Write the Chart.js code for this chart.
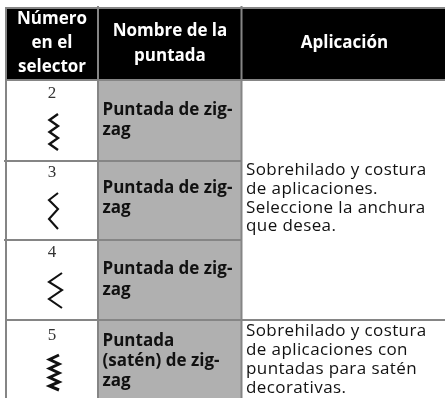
<!DOCTYPE html>
<html>
<head>
<meta charset="utf-8">
<script src="https://cdn.jsdelivr.net/npm/chart.js@4/dist/chart.umd.min.js"></script>
<style>
  html, body { margin: 0; padding: 0; background: #fff; }
  #wrap { width: 445px; height: 398px; }
</style>
</head>
<body>
<div id="wrap"><canvas id="tabla" width="445" height="398"></canvas></div>
<script>
// table text
const headers = [["Número", "en el", "selector"], ["Nombre de la", "puntada"], ["Aplicación"]];
const selectorNumbers = ["2", "3", "4", "5"];
const stitchNames = [
  ["Puntada de zig-", "zag"],
  ["Puntada de zig-", "zag"],
  ["Puntada de zig-", "zag"],
  ["Puntada", "(satén) de zig-", "zag"]
];
const applications = [
  ["Sobrehilado y costura", "de aplicaciones.", "Seleccione la anchura", "que desea."],
  ["Sobrehilado y costura", "de aplicaciones con", "puntadas para satén", "decorativas."]
];

// grid
const columnEdges = [6, 98, 241.5, 445];
const rowEdges = [8, 80, 161, 240, 320, 398];

// stitch glyphs
const stitch2 = [{x:58,y:114},{x:49.5,y:120},{x:58,y:126},{x:49.5,y:132},{x:58,y:138},{x:49.5,y:144},{x:58,y:150}];
const stitch3 = [{x:58,y:193},{x:49,y:200},{x:58,y:209},{x:49,y:219},{x:58,y:229}];
const stitch4 = [{x:62,y:273},{x:49,y:282},{x:62,y:290},{x:49,y:299},{x:62,y:308}];
const stitch5 = [{x:59,y:355},{x:49.5,y:359.5},{x:59,y:364},{x:49.5,y:368.5},{x:59,y:373},{x:49.5,y:377.5},{x:59,y:382},{x:49.5,y:386},{x:59,y:390}];

const GRID = "#858585", CELL = "#b0b0b0", INK = "#111";

function rect(x0, x1, top, bottom, color) {
  return {
    type: "line",
    data: [{x: x0, y: top}, {x: x1, y: top}],
    borderWidth: 0, pointRadius: 0,
    backgroundColor: color,
    fill: {value: bottom}, order: 3
  };
}
function rule(a, b, width) {
  return {
    type: "line", data: [a, b],
    borderColor: GRID, borderWidth: width || 2,
    pointRadius: 0, fill: false, order: 2
  };
}
function stitch(points, width) {
  return {
    type: "line", data: points,
    borderColor: INK, borderWidth: width,
    pointRadius: 0, fill: false, tension: 0, order: 1
  };
}

const datasets = [
  rect(columnEdges[0], columnEdges[3], rowEdges[0], rowEdges[1], "#000"),
  rect(columnEdges[1], columnEdges[2], rowEdges[1], rowEdges[5], CELL),
  // horizontal rules; the two inner ones stick out on the left
  rule({x: 6, y: rowEdges[0]}, {x: 445, y: rowEdges[0]}),
  rule({x: 6, y: rowEdges[1]}, {x: 445, y: rowEdges[1]}),
  rule({x: 4, y: rowEdges[2]}, {x: 241, y: rowEdges[2]}),
  rule({x: 4, y: rowEdges[3]}, {x: 241, y: rowEdges[3]}),
  rule({x: 6, y: rowEdges[4]}, {x: 445, y: rowEdges[4]}),
  rule({x: columnEdges[0], y: 7}, {x: columnEdges[0], y: 398}),
  rule({x: columnEdges[1], y: 6}, {x: columnEdges[1], y: 398}),
  rule({x: columnEdges[2], y: 6}, {x: columnEdges[2], y: 398}),
  stitch(stitch2, 2.4), stitch(stitch3, 2.1), stitch(stitch4, 2.1), stitch(stitch5, 3)
];

// text goes through the scales as well
const textPlugin = {
  id: "tableText",
  afterDatasetsDraw(chart) {
    const c = chart.ctx, xs = chart.scales.x, ys = chart.scales.y;
    const put = (lines, x, baselines, font, color, align, spacing) => {
      c.font = font; c.fillStyle = color; c.textAlign = align; c.textBaseline = "alphabetic";
      c.letterSpacing = spacing || "0px";
      lines.forEach((t, i) => c.fillText(t, xs.getPixelForValue(x), ys.getPixelForValue(baselines[i])));
    };
    const head = "bold 17px 'Open Sans'", bold = "bold 17px 'Open Sans'", body = "17px 'Open Sans'";
    c.save();
    put(headers[0], 52, [24, 48, 72], head, "#fff", "center");
    put(headers[1], 170, [36, 61], head, "#fff", "center");
    put(headers[2], 344.5, [48], head, "#fff", "center");
    selectorNumbers.forEach((n, i) => put([n], 52, [[98], [177], [257], [340]][i], "17px 'Liberation Serif'", "#333", "center"));
    put(stitchNames[0], 102.5, [115, 135], bold, INK, "left");
    put(stitchNames[1], 102.5, [193, 213], bold, INK, "left");
    put(stitchNames[2], 102.5, [274, 295], bold, INK, "left");
    put(stitchNames[3], 102.5, [346, 366, 386], bold, INK, "left");
    put(applications[0], 246, [175, 193.5, 212.5, 231], body, INK, "left", "0.4px");
    put(applications[1], 246, [336, 355, 374, 393], body, INK, "left", "0.4px");
    c.restore();
  }
};

new Chart(document.getElementById("tabla"), {
  type: "line",
  data: {datasets},
  plugins: [textPlugin],
  options: {
    responsive: false,
    animation: false,
    parsing: false,
    layout: {padding: 0},
    plugins: {legend: {display: false}, tooltip: {enabled: false}},
    scales: {
      x: {type: "linear", min: 0, max: 445, display: false},
      y: {type: "linear", min: 0, max: 398, reverse: true, display: false}
    }
  }
});
</script>
</body>
</html>
